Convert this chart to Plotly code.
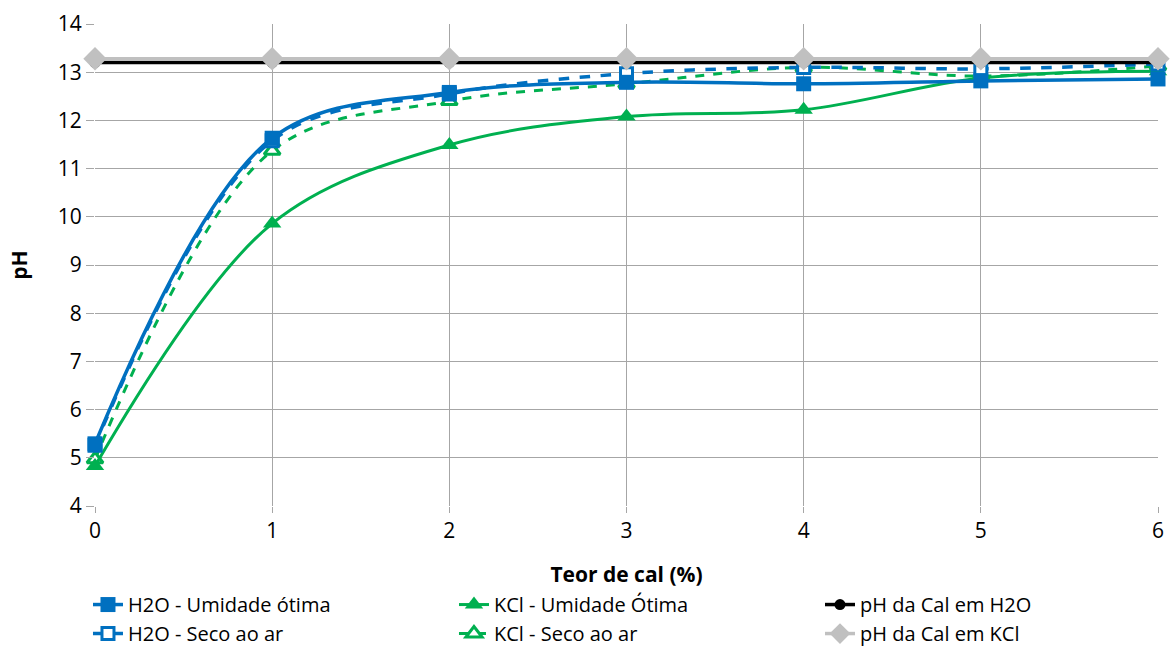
import plotly.graph_objects as go

teor = [0, 1, 2, 3, 4, 5, 6]
h2o_umid = [5.29, 11.63, 12.58, 12.79, 12.76, 12.82, 12.86]
h2o_seco = [5.26, 11.58, 12.55, 12.97, 13.10, 13.07, 13.17]
kcl_umid = [4.83, 9.86, 11.49, 12.08, 12.22, 12.88, 13.02]
kcl_seco = [4.97, 11.37, 12.40, 12.76, 13.10, 12.92, 13.13]
ph_cal_h2o = [13.2] * 7
ph_cal_kcl = [13.28] * 7

BLUE = "#0070C0"
GREEN = "#00B050"
GRAY = "#C0C0C0"
FONT = "Open Sans"
FS = 21

fig = go.Figure()

fig.add_trace(go.Scatter(
    x=teor, y=kcl_seco, name="KCl - Seco ao ar", legendrank=5,
    mode="lines+markers", line=dict(color=GREEN, width=3, dash="dash", shape="spline", smoothing=1),
    marker=dict(symbol="triangle-up", size=14, color="white", line=dict(color=GREEN, width=3))))
fig.add_trace(go.Scatter(
    x=teor, y=kcl_umid, name="KCl - Umidade Ótima", legendrank=2,
    mode="lines+markers", line=dict(color=GREEN, width=3, shape="spline", smoothing=1),
    marker=dict(symbol="triangle-up", size=16, color=GREEN)))
fig.add_trace(go.Scatter(
    x=teor, y=h2o_seco, name="H2O - Seco ao ar", legendrank=4,
    mode="lines+markers", line=dict(color=BLUE, width=3.5, dash="dash", shape="spline", smoothing=1),
    marker=dict(symbol="square", size=12, color="white", line=dict(color=BLUE, width=3))))
fig.add_trace(go.Scatter(
    x=teor, y=h2o_umid, name="H2O - Umidade ótima", legendrank=1,
    mode="lines+markers", line=dict(color=BLUE, width=3.5, shape="spline", smoothing=1),
    marker=dict(symbol="square", size=15, color=BLUE)))
fig.add_trace(go.Scatter(
    x=teor, y=ph_cal_h2o, name="pH da Cal em H2O", legendrank=3,
    mode="lines+markers", line=dict(color="black", width=3.5),
    marker=dict(symbol="circle", size=11, color="black")))
fig.add_trace(go.Scatter(
    x=teor, y=ph_cal_kcl, name="pH da Cal em KCl", legendrank=6,
    mode="lines+markers", line=dict(color=GRAY, width=3.5),
    marker=dict(symbol="diamond", size=18, color=GRAY)))

fig.update_traces(cliponaxis=False)

fig.update_layout(
    width=1171, height=646,
    margin=dict(l=95, r=13, t=24, b=140, autoexpand=False),
    plot_bgcolor="white", paper_bgcolor="white",
    font=dict(family=FONT, size=FS, color="black"),
    xaxis=dict(range=[0, 6], dtick=1, showgrid=True, gridcolor="#A6A6A6", gridwidth=1,
               zeroline=False, showline=False, ticks="outside", ticklen=6, tickcolor="#A6A6A6",
               title=dict(text="<b>Teor de cal (%)</b>", font=dict(size=FS), standoff=24),
               tickfont=dict(size=FS)),
    yaxis=dict(range=[4, 14], dtick=1, showgrid=True, gridcolor="#A6A6A6", gridwidth=1,
               zeroline=False, showline=False, ticks="outside", ticklen=8, tickcolor="#A6A6A6",
               title=dict(text="<b>pH</b>", font=dict(size=FS), standoff=24),
               tickfont=dict(size=FS)),
    legend=dict(orientation="h",
                x=-0.0066, xanchor="left", y=-0.164, yanchor="top",
                entrywidth=321, entrywidthmode="pixels", font=dict(size=20),
                itemwidth=30, tracegroupgap=0, bgcolor="rgba(0,0,0,0)"),
    showlegend=True,
)

fig.write_html("out.html")
